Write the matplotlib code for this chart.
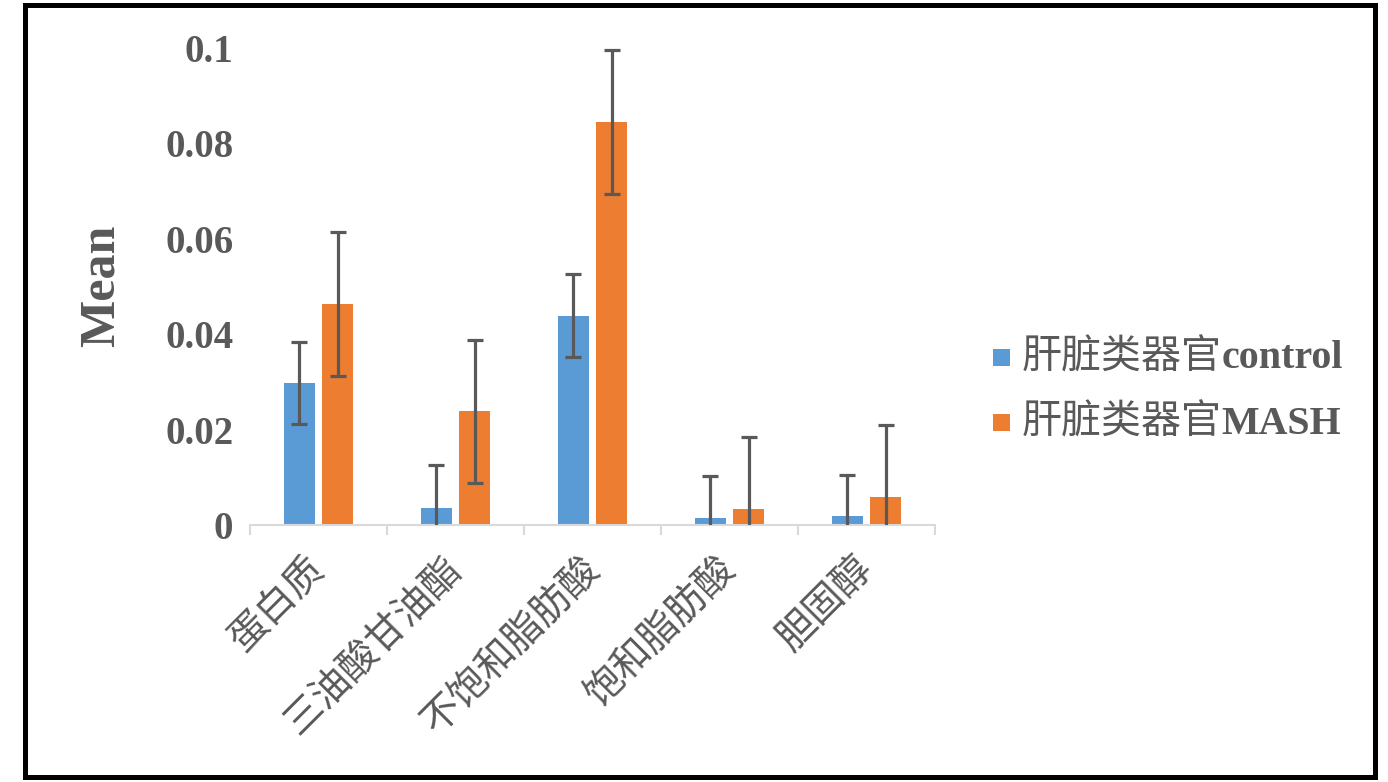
import matplotlib
matplotlib.use("Agg")
import matplotlib.pyplot as plt
import matplotlib.transforms as mtransforms
import numpy as np
from matplotlib.patches import Rectangle
from matplotlib.offsetbox import AnchoredOffsetbox, HPacker, VPacker, TextArea, DrawingArea

categories = ["蛋白质", "三油酸甘油酯", "不饱和脂肪酸", "饱和脂肪酸", "胆固醇"]
control = [0.0298, 0.0036, 0.0439, 0.0015, 0.0018]
control_err = [0.0086, 0.0090, 0.0087, 0.0087, 0.0087]
mash = [0.0463, 0.0238, 0.0845, 0.0033, 0.0058]
mash_err = [0.0151, 0.0150, 0.0151, 0.0151, 0.0151]
yticks = [0, 0.02, 0.04, 0.06, 0.08, 0.1]
ytick_labels = ["0", "0.02", "0.04", "0.06", "0.08", "0.1"]
series_cjk = ["肝脏类器官", "肝脏类器官"]
series_latin = ["control", "MASH"]

blue = "#5B9BD5"
orange = "#ED7D31"
grey = "#595959"
axis_grey = "#D9D9D9"
cjk = "Noto Sans CJK SC"
serif = "Liberation Serif"

fig = plt.figure(figsize=(13.88, 7.82), dpi=100)
ax = fig.add_axes([250/1388, 1-525/782, 685/1388, 477/782])

x = np.arange(len(categories))
off = 0.14
w = 0.225
ax.bar(x - off, control, w, color=blue, zorder=2)
ax.bar(x + off, mash, w, color=orange, zorder=2)
ax.errorbar(x - off, control, yerr=control_err, fmt="none", ecolor=grey,
            elinewidth=2.3, capsize=6, capthick=2.3, zorder=3)
ax.errorbar(x + off, mash, yerr=mash_err, fmt="none", ecolor=grey,
            elinewidth=2.3, capsize=6, capthick=2.3, zorder=3)

ax.set_xlim(-0.5, len(categories) - 0.5)
ax.set_ylim(0, 0.1)
for s in ["top", "right", "left"]:
    ax.spines[s].set_visible(False)
ax.spines["bottom"].set_color(axis_grey)
ax.spines["bottom"].set_linewidth(1.5)

ax.set_yticks(yticks)
ax.set_yticklabels(ytick_labels, family=serif, weight="bold", fontsize=28, color=grey)
ax.tick_params(axis="y", length=0, pad=12)

ax.set_xticks(x)
ax.set_xticklabels(categories, family=cjk, fontsize=28, color=grey,
                   rotation=45, ha="right", va="top", rotation_mode="anchor")
ax.tick_params(axis="x", which="major", length=0, pad=17)
shift = mtransforms.ScaledTranslation(-14/100, 0, fig.dpi_scale_trans)
for lbl in ax.get_xticklabels():
    lbl.set_transform(lbl.get_transform() + shift)
ax.set_xticks(np.arange(-0.5, len(categories), 1), minor=True)
ax.tick_params(axis="x", which="minor", length=7, width=1.5, color=axis_grey)

fig.text(102/1388, 1-286/782, "Mean", rotation=90, ha="center", va="center",
         family=serif, weight="bold", fontsize=36, color=grey)

# legend: CJK part regular, latin part bold serif
rows = []
for c, lat, col in zip(series_cjk, series_latin, [blue, orange]):
    da = DrawingArea(12.5, 12.5)
    da.add_artist(Rectangle((0, 0), 12.5, 12.5, fc=col, ec="none"))
    t1 = TextArea(c, textprops=dict(family=cjk, fontsize=28.8, color=grey))
    t2 = TextArea(lat, textprops=dict(family=serif, weight="bold", fontsize=28.8, color=grey))
    txt = HPacker(children=[t1, t2], align="baseline", pad=0, sep=0)
    rows.append(HPacker(children=[da, txt], align="center", pad=0, sep=8))
box = VPacker(children=rows, align="left", pad=0, sep=18)
anch = AnchoredOffsetbox(loc="center left", child=box, frameon=False,
                         bbox_to_anchor=(993/1388, 1-390/782),
                         bbox_transform=fig.transFigure, borderpad=0, pad=0)
fig.add_artist(anch)

fig.patches.append(Rectangle((25/1388, 5/782), 1350/1388, 772/782, fill=False,
                             ec="black", lw=3.6, transform=fig.transFigure, figure=fig))

fig.savefig("out.png", dpi=100)
